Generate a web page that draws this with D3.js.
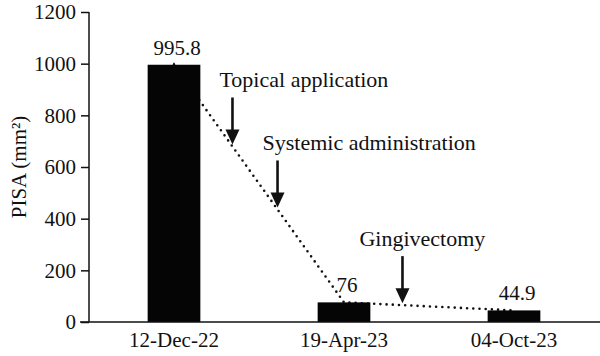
<!DOCTYPE html>
<html><head><meta charset="utf-8">
<script src="https://cdn.jsdelivr.net/npm/d3@7"></script>
<style>
html,body{margin:0;padding:0;background:#fff;}
svg{display:block;}
svg text{font-family:"Liberation Serif","DejaVu Serif",serif !important;fill:#111;}
</style></head>
<body>
<svg id="c" width="600" height="356"></svg>
<script>
const categories = ["12-Dec-22", "19-Apr-23", "04-Oct-23"];
const values = [995.8, 76, 44.9];
const valueLabels = ["995.8", "76", "44.9"];
const yTicks = [0, 200, 400, 600, 800, 1000, 1200];
const yTitle = "PISA (mm²)";
// annotations: text, position along trend line (segment index + fraction)
const annotations = [
  {text: "Topical application", seg: 0, frac: 0.344},
  {text: "Systemic administration", seg: 0, frac: 0.609},
  {text: "Gingivectomy", seg: 1, frac: 0.344}
];

const svg = d3.select("#c");
const m = {left: 89, right: 1, top: 12, bottom: 34};
const W = 600, H = 356;
const x = d3.scaleBand().domain(categories).range([m.left, W - m.right]).paddingInner(0.69).paddingOuter(0.345);
const y = d3.scaleLinear().domain([0, 1200]).range([H - m.bottom, m.top]);
const cx = c => x(c) + x.bandwidth() / 2;

// dotted trend line (behind bars)
const pts = categories.map((c, i) => [cx(c), y(values[i])]);
svg.append("path")
  .attr("d", d3.line()(pts))
  .attr("fill", "none").attr("stroke", "#111").attr("stroke-width", 2.6)
  .attr("stroke-linecap", "round").attr("stroke-dasharray", "0,6.2");

// bars
svg.selectAll("rect.bar").data(categories).join("rect")
  .attr("class", "bar")
  .attr("x", c => x(c)).attr("width", x.bandwidth())
  .attr("y", (c, i) => y(values[i])).attr("height", (c, i) => y(0) - y(values[i]))
  .attr("fill", "#050505");

// small error cap on first bar
svg.append("line").attr("x1", cx(categories[0])).attr("x2", cx(categories[0]))
  .attr("y1", y(values[0]) - 2).attr("y2", y(values[0])).attr("stroke", "#111").attr("stroke-width", 1.5);

// y axis
const yAxis = d3.axisLeft(y).tickValues(yTicks).tickSize(8).tickPadding(5).tickFormat(d3.format("d"));
const gy = svg.append("g").attr("transform", `translate(${m.left},0)`).call(yAxis)
  .attr("font-family", "Liberation Serif").attr("font-size", 21);
gy.select(".domain").attr("stroke", "#111").attr("stroke-width", 1.5).attr("d", `M0,${y(1200)}V${y(0)}`);
gy.selectAll(".tick line").attr("stroke", "#111").attr("stroke-width", 1.5);
gy.selectAll(".tick text").attr("fill", "#111");

// x axis
const xAxis = d3.axisBottom(x).tickSize(0).tickPadding(10);
const gx = svg.append("g").attr("transform", `translate(0,${y(0)})`).call(xAxis)
  .attr("font-family", "Liberation Serif").attr("font-size", 21);
gx.select(".domain").attr("stroke", "#111").attr("stroke-width", 1.5).attr("d", `M${m.left - 9},0H${W}`);
gx.selectAll(".tick text").attr("fill", "#111");

// value labels
svg.selectAll("text.val").data(categories).join("text")
  .attr("class", "val")
  .attr("x", (c, i) => cx(c) + (i === 1 ? 3 : 3))
  .attr("y", (c, i) => y(values[i]) - 10)
  .attr("text-anchor", "middle").attr("font-size", 21)
  .text((c, i) => valueLabels[i]);

// y title
svg.append("text")
  .attr("transform", `translate(26,${(y(0) + y(1200)) / 2}) rotate(-90)`)
  .attr("text-anchor", "middle").attr("font-size", 21)
  .text(yTitle);

// annotations with arrows
const textOffsets = [-13, -15, -43];
annotations.forEach((a, k) => {
  const x0 = pts[a.seg][0], x1 = pts[a.seg + 1][0];
  const y0 = pts[a.seg][1], y1 = pts[a.seg + 1][1];
  const ax = x0 + (x1 - x0) * a.frac;
  const tipY = y0 + (y1 - y0) * a.frac - 2;
  const top = tipY - 47;
  svg.append("line").attr("x1", ax).attr("x2", ax).attr("y1", top).attr("y2", tipY - 12)
    .attr("stroke", "#111").attr("stroke-width", 2.6);
  svg.append("path").attr("d", `M${ax - 7},${tipY - 15}L${ax + 7},${tipY - 15}L${ax},${tipY}Z`).attr("fill", "#111");
  svg.append("text").attr("x", ax + textOffsets[k]).attr("y", top - 10)
    .attr("font-size", 22).text(a.text);
});
</script>
</body></html>
